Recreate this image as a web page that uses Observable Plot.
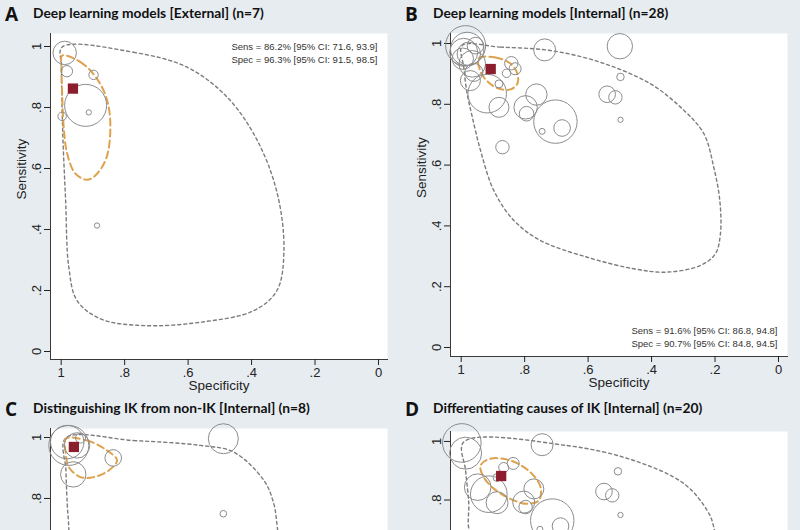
<!DOCTYPE html>
<html><head><meta charset="utf-8">
<script src="https://cdn.jsdelivr.net/npm/d3@7"></script>
<script src="https://cdn.jsdelivr.net/npm/@observablehq/plot@0.6"></script>
<style>
html,body{margin:0;padding:0;}
body{background:#e7ecf1;width:800px;height:530px;overflow:hidden;position:relative;font-family:"Liberation Sans",Arial,sans-serif;}
.panel{position:absolute;width:400px;}
.letter{position:absolute;left:5px;top:1px;font:bold 19px "Open Sans",sans-serif;color:#111;}
.title{position:absolute;left:33px;top:4px;font:bold 13.8px Lato,sans-serif;color:#111;white-space:nowrap;}
.panel svg{position:absolute;left:0;top:0;overflow:visible;}
</style></head><body>
<script>
// ---------- Panel A: Deep learning models [External] ----------
const aSpec = [0.989, 0.982, 0.898, 0.923, 0.913, 0.997, 0.887];
const aSens = [0.979, 0.919, 0.907, 0.807, 0.784, 0.771, 0.413];
const aWeight = [137, 32, 22, 441, 7, 18, 7];
const aSummary = {spec: 0.963, sens: 0.862};
const aPredSpec = [0.997, 0.772, 0.603, 0.477, 0.382, 0.319, 0.298, 0.320, 0.393, 0.561, 0.740, 0.876, 0.950, 0.976, 0.986, 0.995, 0.999];
const aPredSens = [0.998, 0.981, 0.932, 0.834, 0.692, 0.518, 0.331, 0.200, 0.134, 0.096, 0.085, 0.107, 0.167, 0.276, 0.495, 0.714, 0.932];
const aConfSpec = [0.997, 0.939, 0.887, 0.855, 0.845, 0.857, 0.887, 0.918, 0.955, 0.981, 0.992, 0.997, 0.999];
const aConfSens = [0.970, 0.949, 0.894, 0.823, 0.735, 0.637, 0.583, 0.563, 0.583, 0.648, 0.735, 0.845, 0.932];
const aNote = ["Sens = 86.2% [95% CI: 71.6, 93.9]", "Spec = 96.3% [95% CI: 91.5, 98.5]"];

// ---------- Panel B: Deep learning models [Internal] ----------
const bSpec = [0.986, 0.981, 0.992, 0.976, 0.955, 0.995, 0.971, 0.918, 0.881, 0.870, 0.881, 0.857, 0.842, 0.830, 0.737, 0.763, 0.797, 0.794, 0.703, 0.682, 0.745, 0.500, 0.498, 0.540, 0.514, 0.498, 0.965, 0.960];
const bSens = [0.993, 0.982, 0.971, 0.966, 0.993, 0.950, 0.878, 0.835, 0.790, 0.659, 0.867, 0.902, 0.935, 0.917, 0.979, 0.832, 0.790, 0.769, 0.743, 0.722, 0.711, 0.991, 0.890, 0.833, 0.823, 0.749, 0.933, 0.905];
const bWeight = [400, 279, 196, 137, 69, 114, 100, 372, 100, 45, 16, 18, 45, 36, 121, 114, 137, 53, 471, 69, 9, 161, 14, 69, 45, 7, 177, 81];
const bSummary = {spec: 0.907, sens: 0.916};
const bPredSpec = [0.997, 0.876, 0.719, 0.561, 0.403, 0.298, 0.235, 0.204, 0.185, 0.183, 0.199, 0.246, 0.351, 0.456, 0.603, 0.750, 0.834, 0.897, 0.939, 0.965, 0.981, 0.992];
const bPredSens = [0.993, 0.988, 0.977, 0.938, 0.867, 0.780, 0.703, 0.593, 0.484, 0.374, 0.308, 0.270, 0.248, 0.259, 0.297, 0.352, 0.418, 0.516, 0.648, 0.758, 0.834, 0.922];
const bConfSpec = [0.945, 0.892, 0.845, 0.823, 0.823, 0.845, 0.882, 0.917, 0.939];
const bConfSens = [0.951, 0.954, 0.934, 0.901, 0.868, 0.849, 0.852, 0.875, 0.908];
const bNote = ["Sens = 91.6% [95% CI: 86.8, 94.8]", "Spec = 90.7% [95% CI: 84.8, 94.5]"];

// ---------- Panel C: Distinguishing IK from non-IK [Internal] ----------
const cSpec = [0.981, 0.976, 0.950, 0.836, 0.962, 0.489, 0.489, 0.939];
const cSens = [0.985, 0.974, 0.974, 0.933, 0.879, 0.996, 0.750, 0.998];
const cWeight = [279, 400, 161, 69, 161, 225, 11, 25];
const cSummary = {spec: 0.960, sens: 0.969};
const cPredSpec = [0.986, 0.771, 0.561, 0.456, 0.361, 0.330, 0.319, 0.300, 0.330, 0.450, 0.700, 0.900, 0.960, 0.975, 0.976, 0.981, 0.985];
const cPredSens = [0.998, 0.990, 0.974, 0.952, 0.859, 0.783, 0.706, 0.500, 0.300, 0.150, 0.100, 0.150, 0.300, 0.500, 0.700, 0.783, 0.892];
const cConfSpec = [0.986, 0.918, 0.855, 0.824, 0.850, 0.897, 0.939, 0.976, 0.986];
const cConfSens = [0.996, 0.990, 0.957, 0.925, 0.892, 0.870, 0.870, 0.903, 0.952];

// ---------- Panel D: Differentiating causes of IK [Internal] ----------
const dSpec = [0.998, 0.986, 0.948, 0.913, 0.887, 0.887, 0.866, 0.836, 0.771, 0.803, 0.797, 0.745, 0.506, 0.550, 0.524, 0.713, 0.687, 0.752, 0.870, 0.498];
const dSens = [0.995, 0.960, 0.844, 0.820, 0.791, 0.877, 0.911, 0.925, 0.838, 0.793, 0.776, 0.989, 0.898, 0.829, 0.816, 0.730, 0.711, 0.700, 0.660, 0.749];
const dWeight = [372, 256, 177, 335, 121, 16, 25, 36, 100, 121, 45, 121, 14, 69, 45, 471, 69, 9, 45, 7];
const dSummary = {spec: 0.874, sens: 0.882};
const dPredSpec = [0.992, 0.666, 0.456, 0.298, 0.225, 0.204, 0.185, 0.200, 0.300, 0.500, 0.700, 0.850, 0.940, 0.976, 0.976, 0.986];
const dPredSens = [0.998, 0.986, 0.935, 0.856, 0.765, 0.708, 0.500, 0.320, 0.250, 0.270, 0.330, 0.450, 0.600, 0.702, 0.787, 0.900];
const dConfSpec = [0.939, 0.908, 0.845, 0.782, 0.750, 0.755, 0.792, 0.845, 0.897, 0.929];
const dConfSens = [0.918, 0.941, 0.935, 0.895, 0.844, 0.799, 0.787, 0.804, 0.839, 0.878];

const axisTicks = [0, 0.2, 0.4, 0.6, 0.8, 1];
const fmt = d => d === 0 ? "0" : d === 1 ? "1" : String(d).replace(/^0/, "");
const zip = (xs, ys, extra) => xs.map((x, i) => ({x, y: ys[i], w: extra ? extra[i] : undefined}));

function panel(cfg) {
  const div = document.createElement("div");
  div.className = "panel";
  div.style.left = cfg.left + "px";
  div.style.top = cfg.top + "px";
  div.style.height = cfg.height + "px";
  const studies = zip(cfg.spec, cfg.sens, cfg.weight);
  const pred = zip(cfg.predSpec, cfg.predSens);
  const conf = zip(cfg.confSpec, cfg.confSens);
  const yTicks = axisTicks.filter(t => t >= cfg.yBottom);
  const marks = [
    Plot.frame({fill: "white", stroke: null}),
    Plot.frame({anchor: "left", stroke: "#3a3a3a", strokeWidth: 1}),
    Plot.axisY({ticks: yTicks, tickFormat: fmt, tickRotate: -90, tickSize: 6, tickPadding: 4, fontSize: 13, label: null, color: "#222"})
  ];
  if (cfg.full) {
    marks.push(
      Plot.frame({anchor: "bottom", stroke: "#3a3a3a", strokeWidth: 1}),
      Plot.axisX({ticks: axisTicks, tickFormat: fmt, tickSize: 6, tickPadding: 2, fontSize: 13, label: null, color: "#222"}),
      Plot.text(["Sensitivity"], {frameAnchor: "left", dx: -29, dy: 3, rotate: -90, fontSize: 13.5, fill: "#222"}),
      Plot.text(["Specificity"], {frameAnchor: "bottom", dy: 30, fontSize: 13.5, fill: "#222"})
    );
  }
  marks.push(
    Plot.line(pred, {x: "x", y: "y", curve: "catmull-rom-closed", stroke: "#7c7c7c", strokeWidth: 1.4, strokeDasharray: "3,3"}),
    Plot.line(conf, {x: "x", y: "y", curve: "catmull-rom-closed", stroke: "#dea24e", strokeWidth: 2, strokeDasharray: "7,4"}),
    Plot.dot(studies, {x: "x", y: "y", r: "w", stroke: "#8c8c8c", strokeWidth: 1, fill: "none"}),
    Plot.dot([cfg.summary], {x: "spec", y: "sens", symbol: "square", r: 5.8, fill: "#8c1d2c", stroke: null})
  );
  if (cfg.note) {
    const top = cfg.noteAnchor.startsWith("top");
    marks.push(Plot.text([cfg.note.join("\n")], {
      frameAnchor: cfg.noteAnchor, textAnchor: "end", lineAnchor: top ? "top" : "bottom",
      dx: -10, dy: top ? 8 : -10, fontSize: 9.5, lineHeight: 1.3, fill: "#333"
    }));
  }
  const svg = Plot.plot({
    width: 400, height: cfg.height,
    marginLeft: 50, marginRight: 13, marginTop: cfg.marginTop, marginBottom: cfg.marginBottom,
    style: {background: "transparent", overflow: "visible", fontFamily: "'Liberation Sans', Arial, sans-serif"},
    x: {domain: [1.0337, -0.0284], axis: null},
    y: {domain: [cfg.yBottom, cfg.yTop], axis: null},
    r: {type: "sqrt", domain: [0, 484], range: [0, 22]},
    marks
  });
  div.appendChild(svg);
  const letter = document.createElement("div");
  letter.className = "letter"; letter.textContent = cfg.letter;
  const title = document.createElement("div");
  title.className = "title"; title.textContent = cfg.title;
  div.appendChild(letter); div.appendChild(title);
  document.body.appendChild(div);
}

panel({left: 0, top: 0, height: 400, marginTop: 33, marginBottom: 41, full: true,
  letter: "A", title: "Deep learning models [External] (n=7)",
  spec: aSpec, sens: aSens, weight: aWeight, summary: aSummary,
  predSpec: aPredSpec, predSens: aPredSens, confSpec: aConfSpec, confSens: aConfSens,
  yTop: 1.0426, yBottom: -0.0262, note: aNote, noteAnchor: "top-right"});
panel({left: 400, top: 0, height: 400, marginTop: 33, marginBottom: 44, full: true,
  letter: "B", title: "Deep learning models [Internal] (n=28)",
  spec: bSpec, sens: bSens, weight: bWeight, summary: bSummary,
  predSpec: bPredSpec, predSens: bPredSens, confSpec: bConfSpec, confSens: bConfSens,
  yTop: 1.0329, yBottom: -0.0296, note: bNote, noteAnchor: "bottom-right"});
panel({left: 0, top: 395, height: 135, marginTop: 33, marginBottom: 0, full: false,
  letter: "C", title: "Distinguishing IK from non-IK [Internal] (n=8)",
  spec: cSpec, sens: cSens, weight: cWeight, summary: cSummary,
  predSpec: cPredSpec, predSens: cPredSens, confSpec: cConfSpec, confSens: cConfSens,
  yTop: 1.0295, yBottom: 0.695});
panel({left: 400, top: 395, height: 135, marginTop: 36, marginBottom: 0, full: false,
  letter: "D", title: "Differentiating causes of IK [Internal] (n=20)",
  spec: dSpec, sens: dSens, weight: dWeight, summary: dSummary,
  predSpec: dPredSpec, predSens: dPredSens, confSpec: dConfSpec, confSens: dConfSens,
  yTop: 1.034, yBottom: 0.696});
</script>
</body></html>
